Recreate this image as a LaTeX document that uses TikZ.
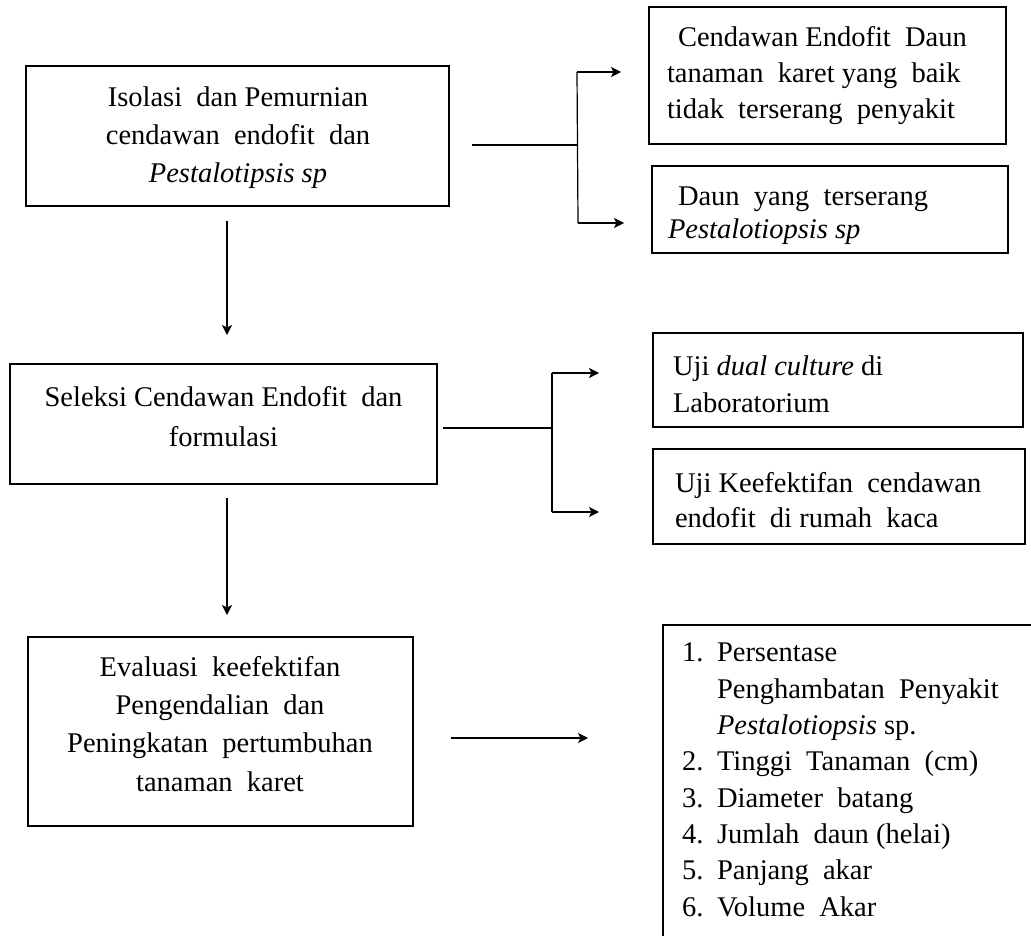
\documentclass[tikz,border=0pt]{standalone}
\usepackage{fontspec}
\setmainfont{Liberation Serif}
\usetikzlibrary{arrows.meta}
\tikzset{
  boxnode/.style={draw, line width=1.3pt, inner sep=0pt, outer sep=0pt, anchor=north west},
  txt/.style={inner sep=0pt, outer sep=0pt, font=\fontsize{28.5}{37}\selectfont},
  ctxt/.style={txt, anchor=base, align=center},
  ltxt/.style={txt, anchor=base west, align=left},
  conn/.style={line width=1.2pt},
  arr/.style={line width=1.2pt, -{Stealth[length=10pt,width=10pt,inset=2.5pt]}}
}
\newcommand{\itm}[1]{\makebox[35pt][l]{#1}}
\begin{document}
\begin{tikzpicture}[x=1pt,y=-1pt]
\path[use as bounding box] (0,0) rectangle (1031,936);
\clip (0,0) rectangle (1031,936);
% boxes
\node[boxnode, minimum width=423pt, minimum height=140pt] (b1) at (26,66) {};
\node[boxnode, minimum width=427pt, minimum height=120pt] (b2) at (10,364) {};
\node[boxnode, minimum width=385pt, minimum height=189pt] (b3) at (28,637) {};
\node[boxnode, minimum width=357pt, minimum height=137pt] (t1) at (649,7) {};
\node[boxnode, minimum width=356pt, minimum height=87pt] (t2) at (652,166) {};
\node[boxnode, minimum width=370pt, minimum height=94pt] (r1) at (653,333) {};
\node[boxnode, minimum width=372pt, minimum height=95pt] (r2) at (653,449) {};
\node[boxnode, minimum width=400pt, minimum height=340pt] (lst) at (663,625) {};
% texts (anchor = baseline of the last line)
\node[ctxt, font=\fontsize{28.5}{38}\selectfont] (b1t) at (238,183) {Isolasi \ dan Pemurnian\\cendawan \ endofit \ dan\\\textit{Pestalotipsis sp}};
\node[ctxt, font=\fontsize{28.5}{40}\selectfont] (b2t) at (223.5,446) {Seleksi Cendawan Endofit \ dan\\formulasi};
\node[ctxt, font=\fontsize{28.5}{38.3}\selectfont] (b3t) at (220,791) {Evaluasi \ keefektifan\\Pengendalian \ dan\\Peningkatan \ pertumbuhan\\tanaman \ karet};
\node[ltxt, font=\fontsize{28.5}{36}\selectfont] (t1t) at (667,119) {\hspace*{11pt}Cendawan Endofit \ Daun\\tanaman \ karet yang \ baik\\tidak \ terserang \ penyakit};
\node[ltxt, font=\fontsize{28.5}{33}\selectfont] (t2t) at (668,239) {\hspace*{10pt}Daun \ yang \ terserang\\\textit{Pestalotiopsis sp}};
\node[ltxt] (r1t) at (673,412) {Uji \textit{dual culture} di\\Laboratorium};
\node[ltxt, font=\fontsize{28.5}{35}\selectfont] (r2t) at (675,527) {Uji Keefektifan \ cendawan\\endofit \ di rumah \ kaca};
\node[ltxt, font=\fontsize{28.5}{36.3}\selectfont] (lstt) at (682,916) {\itm{1.}Persentase\\\itm{}Penghambatan \ Penyakit\\\itm{}\textit{Pestalotiopsis} sp.\\\itm{2.}Tinggi \ Tanaman \ (cm)\\\itm{3.}Diameter \ batang\\\itm{4.}Jumlah \ daun (helai)\\\itm{5.}Panjang \ akar\\\itm{6.}Volume \ Akar};
% connector points
\coordinate (d1s) at (227,221); \coordinate (d1e) at (227,335);
\coordinate (d2s) at (227,498); \coordinate (d2e) at (227,615);
\coordinate (h1s) at (472,145); \coordinate (h1j) at (578,145);
\coordinate (h1a) at (577,72); \coordinate (h1ae) at (621,72);
\coordinate (h1b) at (578,223); \coordinate (h1be) at (624,223);
\coordinate (h2s) at (443,428); \coordinate (h2j) at (552,428);
\coordinate (h2a) at (552,373); \coordinate (h2ae) at (599,373);
\coordinate (h2b) at (552,512); \coordinate (h2be) at (599,512);
\coordinate (h3s) at (451,738); \coordinate (h3e) at (588,738);
% connectors
\draw[arr] (d1s) -- (d1e);
\draw[arr] (d2s) -- (d2e);
\draw[conn] (h1s) -- (h1j);
\draw[conn] (h1a) -- (h1b);
\draw[arr] (h1a) -- (h1ae);
\draw[arr] (h1b) -- (h1be);
\draw[conn] (h2s) -- (h2j);
\draw[conn] (h2a) -- (h2b);
\draw[arr] (h2a) -- (h2ae);
\draw[arr] (h2b) -- (h2be);
\draw[arr] (h3s) -- (h3e);
\end{tikzpicture}
\end{document}
